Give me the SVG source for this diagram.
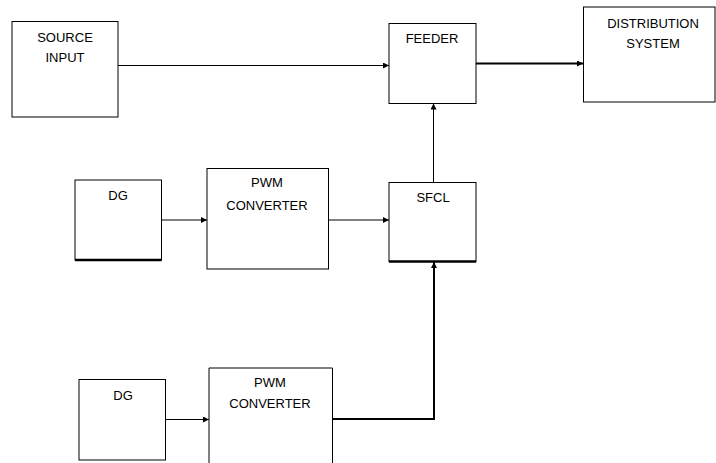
<svg xmlns="http://www.w3.org/2000/svg" width="716" height="463" viewBox="0 0 716 463">
<defs>
<style>
.box{fill:#fff;stroke:#000;stroke-width:1}
.lbl{font-family:"Liberation Sans",Arial,sans-serif;font-size:13px;fill:#000;text-anchor:middle}
.ln{fill:none;stroke:#000;stroke-width:1}
.thick{fill:none;stroke:#000;stroke-width:2}
.base{stroke:#000;stroke-width:2.5}
</style>
<marker id="ah" viewBox="0 0 6 6" refX="6" refY="3" markerWidth="6" markerHeight="6" markerUnits="userSpaceOnUse" orient="auto">
<path d="M0,0 L6,3 L0,6 z" fill="#000"/>
</marker>
</defs>
<rect width="716" height="463" fill="#fff"/>
<g id="connectors">
<path class="ln" d="M118,65.5 H389" marker-end="url(#ah)"/>
<path class="thick" d="M476,63.5 H583" marker-end="url(#ah)"/>
<path class="ln" d="M433.5,182 V103.5" marker-end="url(#ah)"/>
<path class="ln" d="M162,220 H207" marker-end="url(#ah)"/>
<path class="ln" d="M328,220 H389" marker-end="url(#ah)"/>
<path class="ln" d="M166,419.5 H209" marker-end="url(#ah)"/>
<path class="thick" d="M333,419 H434 V262" marker-end="url(#ah)"/>
</g>
<g id="source-input">
<rect class="box" x="12" y="21.5" width="106" height="95.5"/>
<text class="lbl" x="65" y="42">SOURCE</text>
<text class="lbl" x="65" y="62">INPUT</text>
</g>
<g id="feeder">
<rect class="box" x="389" y="23.5" width="87" height="80"/>
<text class="lbl" x="432" y="43">FEEDER</text>
</g>
<g id="distribution-system">
<rect class="box" x="583.5" y="7" width="131.5" height="95"/>
<text class="lbl" x="653" y="28">DISTRIBUTION</text>
<text class="lbl" x="653" y="48">SYSTEM</text>
</g>
<g id="dg1">
<rect class="box" x="75" y="180" width="86.5" height="80"/>
<line class="base" x1="75" y1="260" x2="161.5" y2="260"/>
<text class="lbl" x="118" y="200">DG</text>
</g>
<g id="pwm1">
<rect class="box" x="207" y="168.5" width="121.5" height="100.5"/>
<text class="lbl" x="267" y="187">PWM</text>
<text class="lbl" x="267" y="210">CONVERTER</text>
</g>
<g id="sfcl">
<rect class="box" x="389" y="182.5" width="87" height="79"/>
<line class="base" x1="389" y1="261.5" x2="476" y2="261.5"/>
<text class="lbl" x="433" y="202">SFCL</text>
</g>
<g id="dg2">
<rect class="box" x="79" y="379.5" width="86.5" height="80.5"/>
<text class="lbl" x="123" y="400">DG</text>
</g>
<g id="pwm2">
<path class="box" d="M209,470 V368 H332.5 V470"/>
<text class="lbl" x="270" y="387">PWM</text>
<text class="lbl" x="270" y="408">CONVERTER</text>
</g>
</svg>
